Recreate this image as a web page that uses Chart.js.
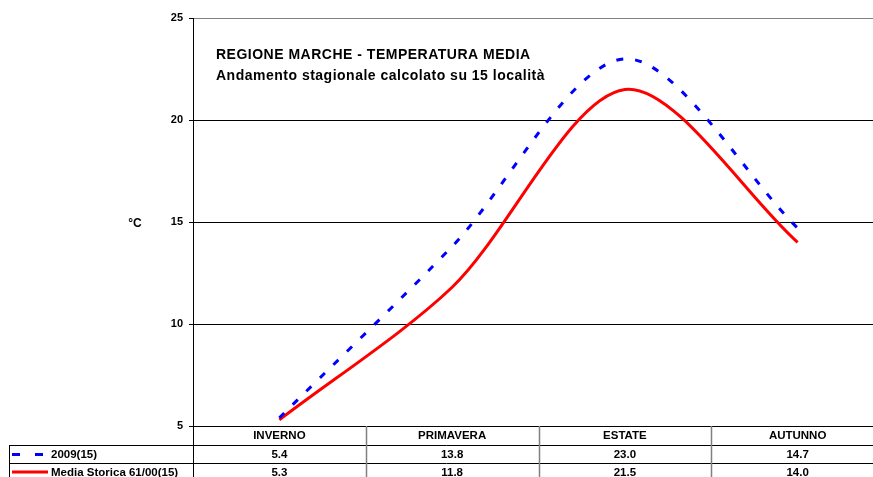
<!DOCTYPE html>
<html>
<head>
<meta charset="utf-8">
<script src="https://cdn.jsdelivr.net/npm/chart.js@4"></script>
<style>
  html, body { margin: 0; padding: 0; background: #fff; overflow: hidden; }
  #wrap { width: 873px; height: 477px; overflow: hidden; }
</style>
</head>
<body>
<div id="wrap"><canvas id="tempChart" width="884" height="477"></canvas></div>
<script>
// Seasons and values
var seasons     = ['INVERNO', 'PRIMAVERA', 'ESTATE', 'AUTUNNO'];
var temp2009    = [5.4, 13.8, 23.0, 14.7];
var tempStorica = [5.3, 11.8, 21.5, 14.0];
var seriesNames = ['2009(15)', 'Media Storica 61/00(15)'];
var titleLines  = ['REGIONE MARCHE - TEMPERATURA MEDIA', 'Andamento stagionale calcolato su 15 località'];
var yUnit       = '°C';
var yMin = 5, yMax = 25, yStep = 5;

var FONT = '"Liberation Sans", Arial, sans-serif';

// Title, unit label and the data table under the x axis
var tablePlugin = {
  id: 'dataTable',
  afterDraw: function (chart) {
    var c    = chart.ctx;
    var area = chart.chartArea;
    var x    = chart.scales.x;
    var colW = (area.right - area.left) / seasons.length;
    var row1 = area.bottom + 18.5;
    var row2 = row1 + 18.5;
    var bottom = chart.height;

    c.save();

    // titles inside plot area (original text is set a bit wide)
    c.fillStyle    = '#000';
    c.textAlign    = 'left';
    c.textBaseline = 'middle';
    c.font = 'bold 14px ' + FONT;
    if ('letterSpacing' in c) c.letterSpacing = '0.5px';
    c.fillText(titleLines[0], area.left + 23, 55);
    c.fillText(titleLines[1], area.left + 23, 76);
    if ('letterSpacing' in c) c.letterSpacing = '0px';

    // unit label
    c.textAlign = 'center';
    c.font = 'bold 12px ' + FONT;
    c.fillText(yUnit, 135, (area.top + area.bottom) / 2 + 2);

    // table lines
    c.strokeStyle = '#000';
    c.lineWidth = 1;
    c.beginPath();
    c.moveTo(9, Math.round(row1) + 0.5); c.lineTo(area.right, Math.round(row1) + 0.5);
    c.moveTo(9, Math.round(row2) + 0.5); c.lineTo(area.right, Math.round(row2) + 0.5);
    c.moveTo(9.5, Math.round(row1)); c.lineTo(9.5, bottom);
    c.moveTo(area.left + 0.5, area.bottom); c.lineTo(area.left + 0.5, bottom);
    c.stroke();

    c.strokeStyle = '#808080';
    c.lineWidth = 1.5;
    c.beginPath();
    for (var i = 1; i < seasons.length; i++) {
      var bx = Math.round(area.left + i * colW) + 0.5;
      c.moveTo(bx, area.bottom); c.lineTo(bx, bottom);
    }
    c.stroke();

    // header + values
    c.fillStyle = '#000';
    c.textAlign = 'center';
    c.font = 'bold 11.5px ' + FONT;
    seasons.forEach(function (s, i) {
      var cx = x.getPixelForValue(i);
      c.fillText(s, cx, area.bottom + 10);
      c.fillText(temp2009[i].toFixed(1), cx, row1 + 10);
      c.fillText(tempStorica[i].toFixed(1), cx, row2 + 10);
    });

    // legend keys
    c.lineWidth = 3;
    c.strokeStyle = '#0000FF';
    c.setLineDash([8, 15]);
    c.beginPath();
    c.moveTo(12, row1 + 10); c.lineTo(48, row1 + 10);
    c.stroke();
    c.setLineDash([]);
    c.strokeStyle = '#FF0000';
    c.beginPath();
    c.moveTo(12, row2 + 9); c.lineTo(48, row2 + 9);
    c.stroke();

    c.textAlign = 'left';
    c.fillText(seriesNames[0], 51, row1 + 10);
    c.fillText(seriesNames[1], 51, row2 + 10);

    c.restore();
  }
};

new Chart(document.getElementById('tempChart'), {
  type: 'line',
  plugins: [tablePlugin],
  data: {
    labels: seasons,
    datasets: [
      {
        label: seriesNames[0],
        data: temp2009,
        borderColor: '#0000FF',
        borderWidth: 3,
        borderDash: [7, 12],
        tension: 0.3,
        pointRadius: 0,
        fill: false
      },
      {
        label: seriesNames[1],
        data: tempStorica,
        borderColor: '#FF0000',
        borderWidth: 3,
        tension: 0.3,
        pointRadius: 0,
        fill: false
      }
    ]
  },
  options: {
    responsive: false,
    animation: false,
    devicePixelRatio: 1,
    layout: { padding: { top: 18, right: 0, bottom: 0, left: 0 } },
    plugins: {
      legend: { display: false },
      tooltip: { enabled: false }
    },
    scales: {
      x: {
        offset: true,
        grid: { display: false },
        ticks: { display: false },
        border: { color: '#000', width: 1 },
        afterFit: function (s) { s.height = 51; }
      },
      y: {
        min: yMin,
        max: yMax,
        ticks: {
          stepSize: yStep,
          color: '#000',
          padding: 6,
          font: { family: FONT, size: 11, weight: 'bold' }
        },
        grid: {
          tickLength: 4,
          color: function (ctx) { return ctx.tick && ctx.tick.value === yMax ? '#808080' : '#000'; },
          tickColor: '#000'
        },
        border: { color: '#000', width: 1 },
        afterFit: function (s) { s.width = 193; }
      }
    }
  }
});
</script>
</body>
</html>
